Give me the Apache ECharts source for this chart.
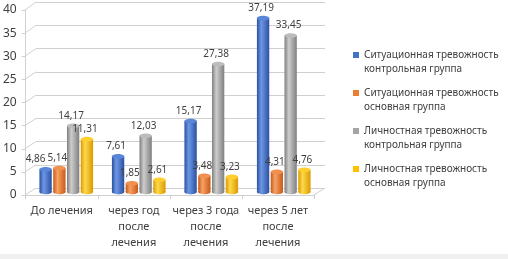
<!DOCTYPE html>
<html>
<head>
<meta charset="utf-8">
<script src="https://cdn.jsdelivr.net/npm/echarts@6/dist/echarts.min.js"></script>
<style>
html, body { margin: 0; padding: 0; background: #fff; }
#chart { width: 508px; height: 259px; }
</style>
</head>
<body>
<div id="chart"></div>
<script>
const categories = ['До лечения', 'через год\nпосле\nлечения', 'через 3 года\nпосле\nлечения', 'через 5 лет\nпосле\nлечения']
const seriesNames = [
    'Ситуационная тревожность\nконтрольная группа',
    'Ситуационная тревожность\nосновная группа',
    'Личностная тревожность\nконтрольная группа',
    'Личностная тревожность\nосновная группа'
]
const sitControl = [4.86, 7.61, 15.17, 37.19]
const sitMain = [5.14, 1.85, 3.48, 4.31]
const persControl = [14.17, 12.03, 27.38, 33.45]
const persMain = [11.31, 2.61, 3.23, 4.76]
const yTicks = [0, 5, 10, 15, 20, 25, 30, 35, 40]

const seriesValues = [sitControl, sitMain, persControl, persMain]
// flat colour, dark edge, highlight, top cap
const palette = [
    { base: '#4472c4', dark: '#2b51a0', light: '#6d97e6', top: '#5a86d8' },
    { base: '#ed7d31', dark: '#c85a16', light: '#f7a165', top: '#f29050' },
    { base: '#a5a5a5', dark: '#7f7f7f', light: '#cdcdcd', top: '#bcbcbc' },
    { base: '#ffc000', dark: '#d99a00', light: '#ffd94a', top: '#ffcf30' }
]
const font = '"Noto Sans", "DejaVu Sans", sans-serif'
const textColor = '#404040'
const gridColor = '#d0d0d0'

// 3d box: front left/right and back left/right edges
const frontLeft = 25, frontRight = 314
const backLeft = 36, backRight = 325

function grad(c) {
    return new echarts.graphic.LinearGradient(0, 0, 1, 0, [
        { offset: 0, color: c.dark },
        { offset: 0.35, color: c.light },
        { offset: 1, color: c.dark }
    ])
}

function makeRender(si) {
    return function (params, api) {
        const idx = api.value(0)
        const val = api.value(1)
        const top = api.coord([idx, val])
        const base = api.coord([idx, 0])
        const band = api.size([1, 0])[0]
        const w = band * 0.17
        const cx = top[0] + (si - 1.5) * band * 0.19
        const ry = 2.3
        const c = palette[si]
        // push the label left when the next bar's label sits at the same height
        let dx = -2
        const next = seriesValues[si + 1]
        if (next && Math.abs(next[idx] - val) < 2.5) dx -= 8
        return {
            type: 'group',
            children: [
                {
                    type: 'ellipse',
                    shape: { cx: cx, cy: base[1], rx: w / 2, ry: ry },
                    style: { fill: grad(c) }
                },
                {
                    type: 'rect',
                    shape: { x: cx - w / 2, y: top[1], width: w, height: base[1] - top[1] },
                    style: { fill: grad(c) },
                    textContent: {
                        style: {
                            text: val.toFixed(2).replace('.', ','),
                            fill: textColor,
                            font: '10px ' + font
                        }
                    },
                    textConfig: { position: 'top', distance: 5, offset: [dx, 0] }
                },
                {
                    type: 'ellipse',
                    shape: { cx: cx, cy: top[1], rx: w / 2, ry: ry },
                    style: { fill: c.top }
                }
            ]
        }
    }
}

const chart = echarts.init(document.getElementById('chart'))
chart.setOption({
    animation: false,
    textStyle: { fontFamily: font },
    legend: {
        orient: 'vertical',
        left: 353,
        top: 48,
        padding: 0,
        itemWidth: 6,
        itemHeight: 20,
        itemGap: 10,
        // square sits at the first text line
        icon: 'path://M0,0h6v6h-6zM0,20h6',
        data: seriesNames,
        textStyle: { fontSize: 10, lineHeight: 14, color: textColor, fontFamily: font }
    },
    grid: [
        // bars
        { left: 30, right: 508 - 320, top: 5, bottom: 259 - 192 },
        // back wall
        { left: backLeft, right: 508 - backRight, top: 2, bottom: 259 - 188 },
        // front edge with labels
        { left: frontLeft, right: 508 - frontRight, top: 10, bottom: 259 - 195 }
    ],
    xAxis: [
        { gridIndex: 0, type: 'category', data: categories, show: false },
        { gridIndex: 1, type: 'category', data: categories, show: false },
        {
            gridIndex: 2, type: 'category', data: categories,
            axisLine: { lineStyle: { color: gridColor } },
            axisTick: { show: true, interval: 0, length: 4, lineStyle: { color: gridColor } },
            axisLabel: { interval: 0, fontSize: 11, lineHeight: 16, color: textColor, margin: 8 }
        }
    ],
    yAxis: [
        { gridIndex: 0, type: 'value', min: 0, max: 40, interval: 5, show: false },
        {
            gridIndex: 1, type: 'value', min: 0, max: 40, interval: 5,
            axisLine: { show: false }, axisTick: { show: false }, axisLabel: { show: false },
            splitLine: { lineStyle: { color: gridColor } }
        },
        {
            gridIndex: 2, type: 'value', min: 0, max: 40, interval: 5,
            axisLine: { show: true, lineStyle: { color: gridColor } },
            axisTick: { show: true, length: 4, lineStyle: { color: gridColor } },
            axisLabel: { fontSize: 12, color: textColor, margin: 9 },
            splitLine: { show: false }
        }
    ],
    series: seriesValues.map(function (vals, si) {
        return {
            name: seriesNames[si],
            type: 'custom',
            xAxisIndex: 0,
            yAxisIndex: 0,
            itemStyle: { color: palette[si].base },
            renderItem: makeRender(si),
            data: vals.map(function (v, i) { return [i, v] })
        }
    })
})

// side wall and floor diagonals, placed through the axes
const lines = yTicks.map(function (v) {
    return {
        type: 'line',
        shape: {
            x1: frontLeft, y1: chart.convertToPixel({ yAxisIndex: 2 }, v),
            x2: backLeft, y2: chart.convertToPixel({ yAxisIndex: 1 }, v)
        },
        style: { stroke: gridColor, lineWidth: 1 },
        z: 1
    }
})
lines.push({
    type: 'line',
    shape: {
        x1: frontRight, y1: chart.convertToPixel({ yAxisIndex: 2 }, 0),
        x2: backRight, y2: chart.convertToPixel({ yAxisIndex: 1 }, 0)
    },
    style: { stroke: gridColor, lineWidth: 1 },
    z: 1
})
lines.push({
    type: 'rect',
    shape: { x: 0, y: 254, width: 508, height: 5 },
    style: { fill: '#f0f0f0' },
    z: 0
})
chart.setOption({ graphic: lines })
</script>
</body>
</html>
